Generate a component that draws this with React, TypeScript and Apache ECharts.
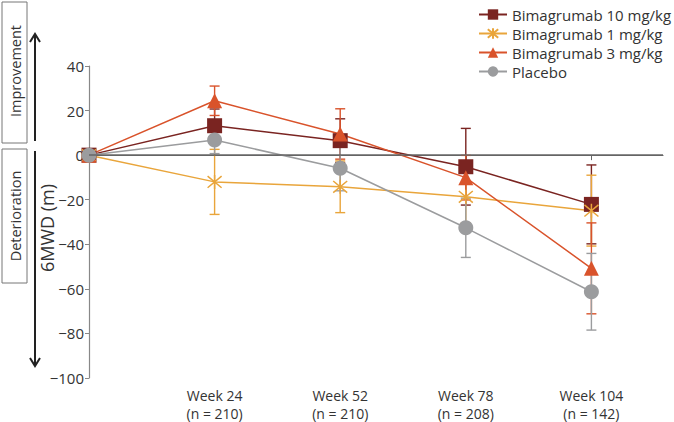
import React, { useEffect, useRef } from "react";
import * as echarts from "echarts";

const categories = ["", "Week 24\n(n = 210)", "Week 52\n(n = 210)", "Week 78\n(n = 208)", "Week 104\n(n = 142)"];
const seriesNames = ["Bimagrumab 10 mg/kg", "Bimagrumab 1 mg/kg", "Bimagrumab 3 mg/kg", "Placebo"];
const mean10 = [0, 13.2, 6.5, -5.2, -22.1];
const err10 = [0, 7.5, 9.8, 17.2, 17.7];
const mean1 = [0, -12.0, -14.2, -18.7, -24.9];
const err1 = [0, 14.6, 11.6, 11.6, 15.9];
const mean3 = [0, 24.4, 9.5, -10.1, -50.8];
const err3 = [0, 6.6, 11.3, 10.0, 20.4];
const meanP = [0, 6.8, -5.9, -32.6, -61.3];
const errP = [0, 6.1, 10.1, 13.3, 17.2];
const yTicks = { min: -100, max: 40, interval: 20 };

const colors = ["#7a2421", "#e9a53b", "#d9532b", "#9b9c9e"];
const symbols = [
  "rect",
  "path://M0,0 L10,10 M10,0 L0,10 M5,-1 L5,11",
  "triangle",
  "circle",
];
const means = [mean10, mean1, mean3, meanP];
const errs = [err10, err1, err3, errP];
const FONT = "'Open Sans', sans-serif";

export default function App() {
  const ref = useRef<HTMLDivElement>(null);
  useEffect(() => {
    const chart = echarts.init(ref.current!, null, { renderer: "svg" });
    const series: any[] = [];
    means.forEach((m, i) => {
      const e = errs[i];
      series.push({
        name: seriesNames[i] + " err",
        type: "custom",
        z: 1,
        silent: true,
        data: m.map((v, k) => [k, v, e[k]]),
        renderItem: (params: any, api: any) => {
          const x = api.value(0);
          const v = api.value(1);
          const er = api.value(2);
          if (!er) return null;
          const top = api.coord([x, v + er]);
          const bot = api.coord([x, v - er]);
          const w = 5;
          const st = { stroke: colors[i], lineWidth: 1.4 };
          return {
            type: "group",
            children: [
              { type: "line", shape: { x1: top[0], y1: top[1], x2: bot[0], y2: bot[1] }, style: st },
              { type: "line", shape: { x1: top[0] - w, y1: top[1], x2: top[0] + w, y2: top[1] }, style: st },
              { type: "line", shape: { x1: bot[0] - w, y1: bot[1], x2: bot[0] + w, y2: bot[1] }, style: st },
            ],
          };
        },
      });
    });
    means.forEach((m, i) => {
      series.push({
        name: seriesNames[i],
        type: "line",
        z: 3 + (i === 3 ? 1 : 0),
        data: m.map((v, k) => [k, v]),
        symbol: symbols[i],
        symbolSize: i === 1 ? 14 : 15,
        showAllSymbol: true,
        lineStyle: { color: colors[i], width: 1.5 },
        itemStyle: i === 1
          ? { color: colors[i], borderColor: colors[i], borderWidth: 1.5 }
          : { color: colors[i] },
        ...(i === 0
          ? {
              markLine: {
                silent: true,
                symbol: "none",
                label: { show: false },
                lineStyle: { color: "#666", width: 1.5, type: "solid" },
                data: [{ yAxis: 0 }],
              },
            }
          : {}),
      });
    });

    chart.setOption({
      animation: false,
      textStyle: { fontFamily: FONT },
      grid: { left: 89, top: 66, right: 11, bottom: 44 },
      legend: {
        data: seriesNames,
        orient: "vertical",
        left: 478,
        top: 7,
        padding: 0,
        itemWidth: 28,
        itemHeight: 13,
        itemGap: 4,
        textStyle: { fontFamily: FONT, fontSize: 15, color: "#333" },
      },
      xAxis: {
        type: "value",
        min: 0,
        max: 4.57,
        interval: 1,
        splitLine: { show: false },
        axisLine: { lineStyle: { color: "#666", width: 1.2 } },
        axisTick: { show: true, customValues: [1, 2, 3, 4], length: 5, lineStyle: { color: "#666" } },
        axisLabel: {
          customValues: [1, 2, 3, 4],
          formatter: (v: number) => categories[Math.round(v)] || "",
          color: "#333",
          fontSize: 14,
          lineHeight: 18,
          margin: 8,
          fontFamily: FONT,
        },
      },
      yAxis: {
        type: "value",
        min: yTicks.min,
        max: yTicks.max,
        interval: yTicks.interval,
        splitLine: { show: false },
        axisLine: { show: true, lineStyle: { color: "#888", width: 1.2 } },
        axisTick: { show: true, length: 4, lineStyle: { color: "#888" } },
        axisLabel: {
          color: "#333",
          fontSize: 15,
          margin: 5,
          fontFamily: FONT,
          formatter: (v: number) => (v < 0 ? "\u2212" + Math.abs(v) : String(v)),
        },
      },
      graphic: [
        { type: "rect", shape: { x: 2, y: 2, width: 25, height: 141 }, style: { fill: "#fff", stroke: "#777", lineWidth: 1 } },
        { type: "text", x: 15, y: 71, rotation: Math.PI / 2, style: { text: "Improvement", align: "center", verticalAlign: "middle", fontSize: 14.5, fill: "#333", fontFamily: FONT } },
        { type: "rect", shape: { x: 2, y: 149, width: 25, height: 134 }, style: { fill: "#fff", stroke: "#777", lineWidth: 1 } },
        { type: "text", x: 15, y: 216, rotation: Math.PI / 2, style: { text: "Deterioration", align: "center", verticalAlign: "middle", fontSize: 14.5, fill: "#333", fontFamily: FONT } },
        { type: "line", shape: { x1: 35, y1: 34, x2: 35, y2: 141 }, style: { stroke: "#222", lineWidth: 2 } },
        { type: "polyline", shape: { points: [[30, 42], [35, 34], [40, 42]] }, style: { stroke: "#222", lineWidth: 2, fill: "none" } },
        { type: "line", shape: { x1: 35, y1: 151, x2: 35, y2: 366 }, style: { stroke: "#222", lineWidth: 2 } },
        { type: "polyline", shape: { points: [[30, 358], [35, 366], [40, 358]] }, style: { stroke: "#222", lineWidth: 2, fill: "none" } },
        { type: "text", x: 47, y: 228, rotation: Math.PI / 2, style: { text: "6MWD (m)", align: "center", verticalAlign: "middle", fontSize: 18, fill: "#333", fontFamily: FONT } },
      ],
      series,
    });
    return () => chart.dispose();
  }, []);
  return <div ref={ref} style={{ position: "fixed", left: 0, top: 0, width: 674, height: 422, background: "#fff" }} />;
}
